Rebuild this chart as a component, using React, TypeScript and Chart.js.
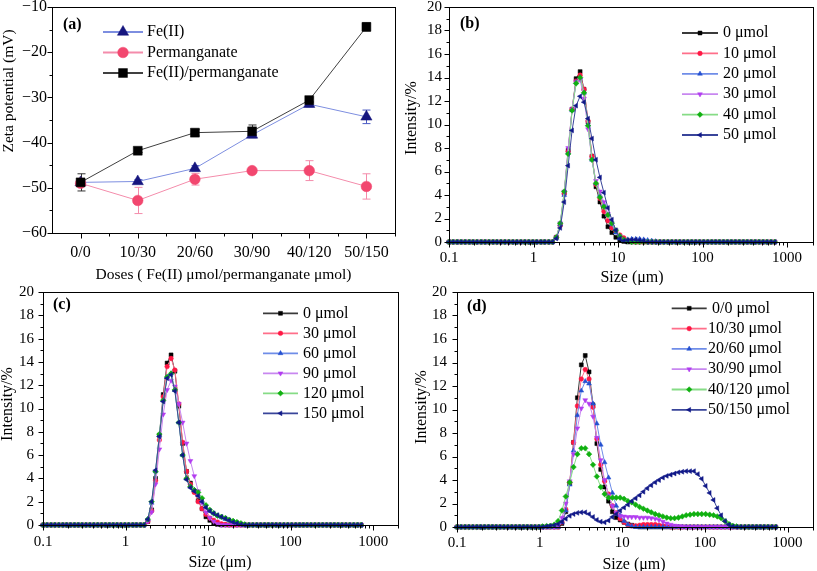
import React, { useEffect, useRef } from 'react';
import { Chart, registerables } from 'chart.js';
import { drawPoint } from 'chart.js/helpers';

Chart.register(...registerables);

const SERIF = '"Liberation Serif", "Times New Roman", serif';
Chart.defaults.font.family = SERIF;
Chart.defaults.color = '#000';

// ---------- Panel (a): zeta potential ----------
const doseLabels = ['0/0', '10/30', '20/60', '30/90', '40/120', '50/150'];
const fe2Zeta = [-48.8, -48.6, -45.7, -38.3, -31.5, -34.3];
const fe2Err = [0.5, 0.4, 0.6, 0.6, 0.6, 1.5];
const permZeta = [-49.0, -52.8, -48.1, -46.2, -46.2, -49.7];
const permErr = [0.6, 2.9, 1.3, 0.3, 2.2, 2.8];
const comboZeta = [-48.8, -41.8, -37.8, -37.5, -30.6, -14.4];
const comboErr = [1.9, 0.4, 0.7, 1.4, 0.5, 0.9];
const zetaTickValues = [-60, -50, -40, -30, -20, -10];
const zetaTickLabels = ['\u221260', '\u221250', '\u221240', '\u221230', '\u221220', '\u221210'];

// ---------- Size distributions ----------
const sizes = [
  0.1, 0.111, 0.124, 0.138, 0.154, 0.172, 0.191, 0.213, 0.238, 0.265,
  0.295, 0.329, 0.366, 0.408, 0.455, 0.507, 0.565, 0.630, 0.702, 0.782,
  0.871, 0.971, 1.08, 1.21, 1.34, 1.50, 1.67, 1.86, 2.07, 2.31,
  2.57, 2.86, 3.19, 3.56, 3.96, 4.42, 4.92, 5.48, 6.11, 6.81,
  7.59, 8.45, 9.42, 10.5, 11.7, 13.0, 14.5, 16.2, 18.0, 20.1,
  22.4, 25.0, 27.8, 31.0, 34.5, 38.5, 42.9, 47.8, 53.2, 59.3,
  66.1, 73.6, 82.0, 91.4, 102, 114, 127, 141, 157, 175,
  195, 217, 242, 270, 301, 335, 373, 416, 463, 516,
  575, 641, 715,
];
const sizeTickValues = [0.1, 1, 10, 100, 1000];
const sizeTickLabels = ['0.1', '1', '10', '100', '1000'];
const minorMultipliers = [2, 3, 4, 5, 6, 7, 8, 9];
const intensityTickValues = [0, 2, 4, 6, 8, 10, 12, 14, 16, 18, 20];
const intensityTickLabels = ['0', '2', '4', '6', '8', '10', '12', '14', '16', '18', '20'];

// (b) Fe(II) doses
const bLabels = ['0 \u03bcmol', '10 \u03bcmol', '20 \u03bcmol', '30 \u03bcmol', '40 \u03bcmol', '50 \u03bcmol'];
const b0 = [
  0, 0, 0, 0, 0, 0, 0, 0, 0, 0,
  0, 0, 0, 0, 0, 0, 0, 0, 0, 0,
  0, 0, 0, 0, 0, 0, 0, 0.4, 1.5, 4.2,
  7.8, 11.3, 13.9, 14.5, 13.0, 10.2, 7.3, 4.7, 3.4, 2.2,
  1.3, 0.8, 0.4, 0.15, 0.05, 0, 0, 0, 0, 0,
  0, 0, 0, 0, 0, 0, 0, 0, 0, 0,
  0, 0, 0, 0, 0, 0, 0, 0, 0, 0,
  0, 0, 0, 0, 0, 0, 0, 0, 0, 0,
  0, 0, 0,
];
const b10 = [
  0, 0, 0, 0, 0, 0, 0, 0, 0, 0,
  0, 0, 0, 0, 0, 0, 0, 0, 0, 0,
  0, 0, 0, 0, 0, 0, 0, 0.4, 1.4, 4.1,
  7.7, 11.3, 13.7, 14.2, 13.0, 10.3, 7.3, 4.9, 3.7, 2.6,
  1.8, 1.2, 0.9, 0.6, 0.35, 0.15, 0.05, 0, 0, 0,
  0, 0, 0, 0, 0, 0, 0, 0, 0, 0,
  0, 0, 0, 0, 0, 0, 0, 0, 0, 0,
  0, 0, 0, 0, 0, 0, 0, 0, 0, 0,
  0, 0, 0,
];
const b20 = [
  0, 0, 0, 0, 0, 0, 0, 0, 0, 0,
  0, 0, 0, 0, 0, 0, 0, 0, 0, 0,
  0, 0, 0, 0, 0, 0, 0, 0.35, 1.5, 4.0,
  7.6, 11.2, 13.6, 14.0, 12.7, 10.0, 7.0, 5.0, 4.0, 3.2,
  2.3, 1.5, 0.8, 0.3, 0.15, 0.2, 0.25, 0.25, 0.25, 0.2,
  0.15, 0.1, 0.05, 0, 0, 0, 0, 0, 0, 0,
  0, 0, 0, 0, 0, 0, 0, 0, 0, 0,
  0, 0, 0, 0, 0, 0, 0, 0, 0, 0,
  0, 0, 0,
];
const b30 = [
  0, 0, 0, 0, 0, 0, 0, 0, 0, 0,
  0, 0, 0, 0, 0, 0, 0, 0, 0, 0,
  0, 0, 0, 0, 0, 0, 0, 0.4, 1.6, 4.3,
  8.0, 11.3, 13.6, 13.8, 12.2, 9.6, 7.0, 5.2, 4.3, 3.4,
  2.4, 1.6, 1.0, 0.5, 0.2, 0.1, 0, 0, 0, 0,
  0, 0, 0, 0, 0, 0, 0, 0, 0, 0,
  0, 0, 0, 0, 0, 0, 0, 0, 0, 0,
  0, 0, 0, 0, 0, 0, 0, 0, 0, 0,
  0, 0, 0,
];
const b40 = [
  0, 0, 0, 0, 0, 0, 0, 0, 0, 0,
  0, 0, 0, 0, 0, 0, 0, 0, 0, 0,
  0, 0, 0, 0, 0, 0, 0, 0.4, 1.6, 4.3,
  7.5, 11.2, 13.5, 14.0, 12.7, 9.9, 7.0, 5.0, 3.8, 3.0,
  2.3, 1.6, 1.0, 0.5, 0.2, 0.1, 0, 0, 0, 0,
  0, 0, 0, 0, 0, 0, 0, 0, 0, 0,
  0, 0, 0, 0, 0, 0, 0, 0, 0, 0,
  0, 0, 0, 0, 0, 0, 0, 0, 0, 0,
  0, 0, 0,
];
const b50 = [
  0, 0, 0, 0, 0, 0, 0, 0, 0, 0,
  0, 0, 0, 0, 0, 0, 0, 0, 0, 0,
  0, 0, 0, 0, 0, 0, 0, 0.3, 1.2, 3.4,
  6.5, 9.5, 11.6, 12.4, 11.9, 10.5, 8.8, 7.0, 5.5, 4.2,
  2.9, 1.9, 1.0, 0.3, 0.1, 0.15, 0.2, 0.2, 0.15, 0.1,
  0, 0, 0, 0, 0, 0, 0, 0, 0, 0,
  0, 0, 0, 0, 0, 0, 0, 0, 0, 0,
  0, 0, 0, 0, 0, 0, 0, 0, 0, 0,
  0, 0, 0,
];

// (c) permanganate doses
const cLabels = ['0 \u03bcmol', '30 \u03bcmol', '60 \u03bcmol', '90 \u03bcmol', '120 \u03bcmol', '150 \u03bcmol'];
const c0 = [
  0, 0, 0, 0, 0, 0, 0, 0, 0, 0,
  0, 0, 0, 0, 0, 0, 0, 0, 0, 0,
  0, 0, 0, 0, 0, 0, 0, 0.3, 1.3, 4.0,
  7.7, 11.2, 13.9, 14.6, 13.2, 10.2, 7.0, 4.6, 3.6, 2.9,
  2.1, 1.4, 0.7, 0.4, 0.15, 0.05, 0, 0, 0, 0,
  0, 0, 0, 0, 0, 0, 0, 0, 0, 0,
  0, 0, 0, 0, 0, 0, 0, 0, 0, 0,
  0, 0, 0, 0, 0, 0, 0, 0, 0, 0,
  0, 0, 0,
];
const c30 = [
  0, 0, 0, 0, 0, 0, 0, 0, 0, 0,
  0, 0, 0, 0, 0, 0, 0, 0, 0, 0,
  0, 0, 0, 0, 0, 0, 0, 0.3, 1.2, 3.8,
  7.3, 11.0, 13.6, 14.3, 13.3, 10.4, 7.1, 4.6, 3.5, 2.8,
  2.0, 1.4, 0.9, 0.6, 0.4, 0.25, 0.1, 0.05, 0, 0,
  0, 0, 0, 0, 0, 0, 0, 0, 0, 0,
  0, 0, 0, 0, 0, 0, 0, 0, 0, 0,
  0, 0, 0, 0, 0, 0, 0, 0, 0, 0,
  0, 0, 0,
];
const c60 = [
  0, 0, 0, 0, 0, 0, 0, 0, 0, 0,
  0, 0, 0, 0, 0, 0, 0, 0, 0, 0,
  0, 0, 0, 0, 0, 0, 0, 0.5, 1.9, 4.6,
  7.7, 10.7, 12.7, 13.0, 11.6, 8.8, 6.0, 4.0, 3.3, 3.0,
  2.6, 2.0, 1.5, 1.2, 1.0, 0.8, 0.65, 0.5, 0.4, 0.25,
  0.15, 0.05, 0, 0, 0, 0, 0, 0, 0, 0,
  0, 0, 0, 0, 0, 0, 0, 0, 0, 0,
  0, 0, 0, 0, 0, 0, 0, 0, 0, 0,
  0, 0, 0,
];
const c90 = [
  0, 0, 0, 0, 0, 0, 0, 0, 0, 0,
  0, 0, 0, 0, 0, 0, 0, 0, 0, 0,
  0, 0, 0, 0, 0, 0, 0, 0.3, 1.1, 3.5,
  6.5, 9.5, 11.6, 12.4, 11.9, 10.4, 8.8, 7.0, 5.5, 4.2,
  2.9, 1.9, 1.1, 0.6, 0.3, 0.1, 0, 0, 0, 0,
  0, 0, 0, 0, 0, 0, 0, 0, 0, 0,
  0, 0, 0, 0, 0, 0, 0, 0, 0, 0,
  0, 0, 0, 0, 0, 0, 0, 0, 0, 0,
  0, 0, 0,
];
const c120 = [
  0, 0, 0, 0, 0, 0, 0, 0, 0, 0,
  0, 0, 0, 0, 0, 0, 0, 0, 0, 0,
  0, 0, 0, 0, 0, 0, 0, 0.5, 2.0, 4.6,
  7.8, 10.7, 12.7, 13.0, 11.6, 8.8, 6.0, 4.0, 3.3, 3.0,
  2.8, 2.3, 1.7, 1.3, 1.0, 0.8, 0.7, 0.6, 0.45, 0.35,
  0.25, 0.15, 0.05, 0, 0, 0, 0, 0, 0, 0,
  0, 0, 0, 0, 0, 0, 0, 0, 0, 0,
  0, 0, 0, 0, 0, 0, 0, 0, 0, 0,
  0, 0, 0,
];
const c150 = [
  0, 0, 0, 0, 0, 0, 0, 0, 0, 0,
  0, 0, 0, 0, 0, 0, 0, 0, 0, 0,
  0, 0, 0, 0, 0, 0, 0, 0.5, 2.0, 4.7,
  7.6, 10.6, 12.6, 12.9, 11.5, 8.8, 6.0, 3.9, 3.2, 2.9,
  2.5, 2.0, 1.5, 1.2, 1.0, 0.85, 0.7, 0.55, 0.4, 0.25,
  0.15, 0.05, 0, 0, 0, 0, 0, 0, 0, 0,
  0, 0, 0, 0, 0, 0, 0, 0, 0, 0,
  0, 0, 0, 0, 0, 0, 0, 0, 0, 0,
  0, 0, 0,
];

// (d) Fe(II)/permanganate doses
const dLabels = [' 0/0 \u03bcmol', '10/30 \u03bcmol', '20/60 \u03bcmol', '30/90 \u03bcmol', '40/120 \u03bcmol', '50/150 \u03bcmol'];
const d0 = [
  0, 0, 0, 0, 0, 0, 0, 0, 0, 0,
  0, 0, 0, 0, 0, 0, 0, 0, 0, 0,
  0, 0, 0, 0, 0, 0, 0, 0.3, 1.3, 3.7,
  7.2, 11.0, 13.8, 14.6, 13.2, 10.4, 7.1, 4.9, 3.4, 2.2,
  1.3, 0.8, 0.6, 0.4, 0.25, 0.15, 0.05, 0, 0, 0,
  0, 0, 0, 0, 0, 0, 0, 0, 0, 0,
  0, 0, 0, 0, 0, 0, 0, 0, 0, 0,
  0, 0, 0, 0, 0, 0, 0, 0, 0, 0,
  0, 0, 0,
];
const d10 = [
  0, 0, 0, 0, 0, 0, 0, 0, 0, 0,
  0, 0, 0, 0, 0, 0, 0, 0, 0, 0,
  0, 0, 0, 0, 0, 0, 0, 0.4, 1.5, 3.8,
  7.2, 10.3, 12.6, 13.4, 12.6, 10.2, 7.5, 5.3, 3.9, 2.8,
  1.8, 1.2, 0.7, 0.4, 0.2, 0.1, 0.1, 0.15, 0.2, 0.2,
  0.2, 0.2, 0.15, 0.1, 0.05, 0, 0, 0, 0, 0,
  0, 0, 0, 0, 0, 0, 0, 0, 0, 0,
  0, 0, 0, 0, 0, 0, 0, 0, 0, 0,
  0, 0, 0,
];
const d20 = [
  0, 0, 0, 0, 0, 0, 0, 0, 0, 0,
  0, 0, 0, 0, 0, 0, 0, 0, 0, 0,
  0, 0, 0, 0, 0, 0, 0, 0.4, 1.4, 3.6,
  6.5, 9.5, 11.6, 12.4, 12.2, 10.5, 8.8, 7.0, 5.5, 4.2,
  2.9, 1.8, 1.0, 0.5, 0.2, 0.05, 0, 0, 0, 0,
  0, 0, 0, 0, 0, 0, 0, 0, 0, 0,
  0, 0, 0, 0, 0, 0, 0, 0, 0, 0,
  0, 0, 0, 0, 0, 0, 0, 0, 0, 0,
  0, 0, 0,
];
const d30 = [
  0, 0, 0, 0, 0, 0, 0, 0, 0, 0,
  0, 0, 0, 0, 0, 0, 0, 0, 0, 0,
  0, 0, 0, 0, 0, 0, 0.2, 0.8, 2.0, 3.9,
  6.2, 8.4, 10.1, 10.8, 10.5, 9.4, 7.6, 5.7, 4.0, 2.7,
  1.8, 1.2, 0.95, 0.9, 0.85, 0.85, 0.85, 0.8, 0.8, 0.8,
  0.75, 0.7, 0.6, 0.45, 0.3, 0.2, 0.12, 0.08, 0.05, 0,
  0, 0, 0, 0, 0, 0, 0, 0, 0, 0,
  0, 0, 0, 0, 0, 0, 0, 0, 0, 0,
  0, 0, 0,
];
const d40 = [
  0, 0, 0, 0, 0, 0, 0, 0, 0, 0,
  0, 0, 0, 0, 0, 0, 0, 0, 0, 0,
  0, 0, 0.05, 0.08, 0.1, 0.2, 0.5, 1.4, 2.6, 3.8,
  5.1, 6.2, 6.7, 6.7, 6.2, 5.3, 4.3, 3.4, 2.8, 2.5,
  2.5, 2.5, 2.5, 2.4, 2.2, 2.1, 1.9, 1.7, 1.55, 1.4,
  1.25, 1.1, 1.0, 0.9, 0.8, 0.75, 0.75, 0.8, 0.9, 1.0,
  1.05, 1.1, 1.1, 1.1, 1.1, 1.05, 1.0, 0.9, 0.75, 0.5,
  0.25, 0.1, 0.05, 0, 0, 0, 0, 0, 0, 0,
  0, 0, 0,
];
const d50 = [
  0, 0, 0, 0, 0, 0, 0, 0, 0, 0,
  0, 0, 0, 0, 0, 0, 0, 0, 0, 0,
  0, 0, 0, 0.05, 0.1, 0.15, 0.25, 0.45, 0.7, 0.95,
  1.1, 1.2, 1.25, 1.25, 1.1, 0.85, 0.6, 0.45, 0.4, 0.55,
  0.85, 1.1, 1.4, 1.65, 1.9, 2.2, 2.45, 2.7, 3.0, 3.3,
  3.55, 3.8, 4.0, 4.2, 4.35, 4.45, 4.55, 4.65, 4.7, 4.75,
  4.75, 4.75, 4.5, 4.1, 3.5, 2.9, 2.3, 1.6, 1.0, 0.5,
  0.2, 0.05, 0, 0, 0, 0, 0, 0, 0, 0,
  0, 0, 0,
];

// ---------- styles ----------
type SeriesStyle = { point: string; line: string; shape: string; rotation: number; radius: number };
const sBlack: SeriesStyle = { point: '#000000', line: '#3a3a3a', shape: 'rect', rotation: 0, radius: 2.8 };
const sRed: SeriesStyle = { point: '#ff1744', line: '#ff6f8a', shape: 'circle', rotation: 0, radius: 2.3 };
const sBlue: SeriesStyle = { point: '#2450d0', line: '#6f8de8', shape: 'triangle', rotation: 0, radius: 2.8 };
const sPurple: SeriesStyle = { point: '#b23cf0', line: '#c887f0', shape: 'triangle', rotation: 180, radius: 2.8 };
const sGreen: SeriesStyle = { point: '#10b010', line: '#86dc86', shape: 'rectRot', rotation: 0, radius: 2.8 };
const sNavy: SeriesStyle = { point: '#101888', line: '#39459a', shape: 'triangle', rotation: -90, radius: 2.8 };
const sizeStyles = [sBlack, sRed, sBlue, sPurple, sGreen, sNavy];

type Decor = {
  tag: string; tagX: number; tagY: number;
  xTitle: string; xTitleX: number; xTitleY: number;
  yTitle: string; yTitleX: number; yTitleY: number;
  titleFont: string;
  lx1: number; lx2: number; ltx: number; ly0: number; ldy: number; legendFont: string;
  xKind: 'category' | 'log';
  yMajorStep: number;
};

function makeDecor(d: Decor) {
  return {
    id: 'decor',
    beforeDatasetsDraw(chart: any) {
      const ctx = chart.ctx;
      const ys = chart.scales.y;
      chart.data.datasets.forEach((ds: any, di: number) => {
        if (!ds.errors) return;
        const meta = chart.getDatasetMeta(di);
        ctx.save();
        ctx.strokeStyle = ds.errorColor;
        ctx.lineWidth = 1;
        ctx.beginPath();
        meta.data.forEach((pt: any, j: number) => {
          const v = ds.data[j];
          const e = ds.errors[j];
          const x = Math.round(pt.x) + 0.5;
          const yt = ys.getPixelForValue(v + e);
          const yb = ys.getPixelForValue(v - e);
          ctx.moveTo(x, yt); ctx.lineTo(x, yb);
          ctx.moveTo(x - 4, yt); ctx.lineTo(x + 4, yt);
          ctx.moveTo(x - 4, yb); ctx.lineTo(x + 4, yb);
        });
        ctx.stroke();
        ctx.restore();
      });
    },
    afterDraw(chart: any) {
      const ctx = chart.ctx;
      const { left, right, top, bottom } = chart.chartArea;
      const xs = chart.scales.x;
      const ys = chart.scales.y;
      const L = Math.round(left) + 0.5;
      const B = Math.round(bottom) + 0.5;
      ctx.save();
      ctx.strokeStyle = '#000';
      ctx.lineWidth = 1;
      ctx.strokeRect(L, Math.round(top) + 0.5, Math.round(right) - Math.round(left), Math.round(bottom) - Math.round(top));
      ctx.beginPath();
      ys.ticks.forEach((t: any) => {
        const y = Math.round(ys.getPixelForValue(t.value)) + 0.5;
        const r = t.value / d.yMajorStep;
        const len = Math.abs(r - Math.round(r)) < 1e-6 ? 5 : 3;
        ctx.moveTo(L - len, y); ctx.lineTo(L, y);
      });
      if (d.xKind === 'log') {
        xs.ticks.forEach((t: any) => {
          const x = Math.round(xs.getPixelForValue(t.value)) + 0.5;
          const len = sizeTickValues.includes(t.value) ? 5 : 3;
          ctx.moveTo(x, B); ctx.lineTo(x, B + len);
        });
      } else {
        const n = xs.ticks.length;
        const half = (xs.getPixelForValue(1) - xs.getPixelForValue(0)) / 2;
        for (let i = 0; i < n; i++) {
          const c = xs.getPixelForValue(i);
          const x = Math.round(c) + 0.5;
          ctx.moveTo(x, B); ctx.lineTo(x, B + 5);
          const m = Math.round(c + half) + 0.5;
          ctx.moveTo(m, B); ctx.lineTo(m, B + 3);
        }
      }
      ctx.stroke();

      ctx.fillStyle = '#000';
      ctx.textBaseline = 'middle';
      ctx.textAlign = 'left';
      ctx.font = 'bold 16px ' + SERIF;
      ctx.fillText(d.tag, d.tagX, d.tagY);

      ctx.font = d.titleFont;
      ctx.textAlign = 'center';
      ctx.fillText(d.xTitle, d.xTitleX, d.xTitleY);
      ctx.save();
      ctx.translate(d.yTitleX, d.yTitleY);
      ctx.rotate(-Math.PI / 2);
      ctx.fillText(d.yTitle, 0, 0);
      ctx.restore();

      chart.data.datasets.forEach((ds: any, i: number) => {
        const y = d.ly0 + i * d.ldy;
        ctx.strokeStyle = ds.borderColor;
        ctx.lineWidth = 1.8;
        ctx.beginPath();
        ctx.moveTo(d.lx1, y); ctx.lineTo(d.lx2, y);
        ctx.stroke();
        ctx.fillStyle = ds.pointBackgroundColor;
        ctx.strokeStyle = ds.pointBorderColor;
        ctx.lineWidth = 0.5;
        drawPoint(ctx, { pointStyle: ds.pointStyle, rotation: ds.pointRotation || 0, radius: ds.pointRadius, borderWidth: 0.5 } as any, (d.lx1 + d.lx2) / 2, y);
        ctx.fillStyle = '#000';
        ctx.font = d.legendFont;
        ctx.textAlign = 'left';
        ctx.textBaseline = 'middle';
        ctx.fillText(ds.label, d.ltx, y);
      });
      ctx.restore();
    },
  };
}

function zetaConfig(): any {
  const decor: Decor = {
    tag: '(a)', tagX: 63, tagY: 25,
    xTitle: 'Doses ( Fe(II) \u03bcmol/permanganate \u03bcmol)', xTitleX: 223.5, xTitleY: 275,
    yTitle: 'Zeta potential (mV)', yTitleX: 8.5, yTitleY: 91,
    titleFont: '15.5px ' + SERIF,
    lx1: 103, lx2: 143, ltx: 147, ly0: 32, ldy: 20.5, legendFont: '16px ' + SERIF,
    xKind: 'category', yMajorStep: 10,
  };
  const mk = (label: string, data: number[], errors: number[], line: string, pt: string, shape: string, radius: number, errColor: string, order: number) => ({
    label, data, errors, errorColor: errColor,
    borderColor: line, backgroundColor: pt, pointBackgroundColor: pt, pointBorderColor: pt,
    pointStyle: shape, pointRadius: radius, pointBorderWidth: 0.5, borderWidth: 1, tension: 0, clip: false, order,
  });
  return {
    type: 'line',
    data: {
      labels: doseLabels,
      datasets: [
        mk('Fe(II)', fe2Zeta, fe2Err, '#7d8ee0', '#16167f', 'triangle', 6.5, '#4a5ac4', 3),
        mk('Permanganate', permZeta, permErr, '#f48cab', '#f2476f', 'circle', 5.3, '#f48cab', 2),
        mk('Fe(II)/permanganate', comboZeta, comboErr, '#404040', '#000000', 'rect', 6.3, '#333333', 1),
      ],
    },
    options: {
      responsive: false, animation: false, events: [],
      layout: { padding: { left: 0, right: 9, top: 7, bottom: 0 } },
      plugins: { legend: { display: false }, tooltip: { enabled: false } },
      scales: {
        x: {
          type: 'category', offset: true,
          grid: { display: false, drawTicks: false }, border: { display: false },
          ticks: { autoSkip: false, maxRotation: 0, padding: 10.5, font: { size: 16, family: SERIF }, color: '#000' },
          afterFit: (s: any) => { s.height = 52; s.paddingLeft = 0; s.paddingRight = 0; },
        },
        y: {
          type: 'linear', min: -60, max: -10,
          grid: { display: false, drawTicks: false }, border: { display: false },
          ticks: {
            stepSize: 5, autoSkip: false, padding: 5, font: { size: 16, family: SERIF }, color: '#000',
            callback: (v: number) => { const k = zetaTickValues.indexOf(v); return k >= 0 ? zetaTickLabels[k] : ''; },
          },
          afterFit: (s: any) => { s.width = 52; s.paddingTop = 0; s.paddingBottom = 0; },
        },
      },
    },
    plugins: [makeDecor(decor)],
  };
}

function sizeConfig(labels: string[], series: number[][], decor: Decor, yWidth: number, xHeight: number, padRight: number, yPad: number, xPad: number): any {
  const datasets = series.map((vals, i) => {
    const st = sizeStyles[i];
    return {
      label: labels[i],
      data: sizes.map((s, j) => ({ x: s, y: vals[j] })),
      borderColor: st.line, backgroundColor: st.point,
      pointBackgroundColor: st.point, pointBorderColor: st.point, pointBorderWidth: 0.5,
      pointStyle: st.shape, pointRotation: st.rotation, pointRadius: st.radius,
      borderWidth: 1, tension: 0, clip: false, order: 10 - i,
    };
  });
  return {
    type: 'line',
    data: { datasets },
    options: {
      responsive: false, animation: false, events: [],
      layout: { padding: { left: 0, right: padRight, top: 7, bottom: 0 } },
      plugins: { legend: { display: false }, tooltip: { enabled: false } },
      scales: {
        x: {
          type: 'logarithmic', min: 0.1, max: 2000,
          grid: { display: false, drawTicks: false }, border: { display: false },
          ticks: {
            autoSkip: false, maxRotation: 0, padding: xPad, font: { size: 15, family: SERIF }, color: '#000',
            callback: (v: number) => { const k = sizeTickValues.indexOf(v); return k >= 0 ? sizeTickLabels[k] : ''; },
          },
          afterBuildTicks: (s: any) => {
            const t: { value: number }[] = [];
            sizeTickValues.forEach((dec) => {
              t.push({ value: dec });
              minorMultipliers.forEach((m) => { if (dec * m <= 2000) t.push({ value: dec * m }); });
            });
            s.ticks = t;
          },
          afterFit: (s: any) => { s.height = xHeight; s.paddingLeft = 0; s.paddingRight = 0; },
        },
        y: {
          type: 'linear', min: 0, max: 20,
          grid: { display: false, drawTicks: false }, border: { display: false },
          ticks: {
            stepSize: 1, autoSkip: false, padding: yPad, font: { size: 15, family: SERIF }, color: '#000',
            callback: (v: number) => { const k = intensityTickValues.indexOf(v); return k >= 0 ? intensityTickLabels[k] : ''; },
          },
          afterFit: (s: any) => { s.width = yWidth; s.paddingTop = 0; s.paddingBottom = 0; },
        },
      },
    },
    plugins: [makeDecor(decor)],
  };
}

const decorB: Decor = {
  tag: '(b)', tagX: 56, tagY: 23.5,
  xTitle: 'Size (\u03bcm)', xTitleX: 228, xTitleY: 278,
  yTitle: 'Intensity/%', yTitleX: 8, yTitleY: 118,
  titleFont: '16px ' + SERIF,
  lx1: 278, lx2: 314, ltx: 319, ly0: 33, ldy: 20.4, legendFont: '16px ' + SERIF,
  xKind: 'log', yMajorStep: 2,
};
const decorC: Decor = {
  tag: '(c)', tagX: 53, tagY: 20,
  xTitle: 'Size (\u03bcm)', xTitleX: 220, xTitleY: 278,
  yTitle: 'Intensity/%', yTitleX: 8, yTitleY: 119,
  titleFont: '16px ' + SERIF,
  lx1: 263, lx2: 298, ltx: 303, ly0: 28.3, ldy: 20, legendFont: '16px ' + SERIF,
  xKind: 'log', yMajorStep: 2,
};
const decorD: Decor = {
  tag: '(d)', tagX: 63, tagY: 22,
  xTitle: 'Size (\u03bcm)', xTitleX: 230, xTitleY: 280,
  yTitle: 'Intensity/%', yTitleX: 18, yTitleY: 122,
  titleFont: '16px ' + SERIF,
  lx1: 267.7, lx2: 302.7, ltx: 304, ly0: 23.3, ldy: 20.3, legendFont: '16px ' + SERIF,
  xKind: 'log', yMajorStep: 2,
};

function Panel(props: { left: number; top: number; width: number; height: number; build: () => any }) {
  const ref = useRef<HTMLCanvasElement>(null);
  useEffect(() => {
    const chart = new Chart(ref.current as HTMLCanvasElement, props.build());
    return () => chart.destroy();
  }, []);
  return (
    <canvas
      ref={ref}
      width={props.width}
      height={props.height}
      style={{ position: 'absolute', left: props.left, top: props.top, width: props.width, height: props.height }}
    />
  );
}

export default function App() {
  return (
    <div style={{ position: 'absolute', left: 0, top: 0, width: 817, height: 571, background: '#fff', overflow: 'hidden' }}>
      <Panel left={0} top={0} width={404} height={285} build={zetaConfig} />
      <Panel left={404} top={0} width={413} height={285}
        build={() => sizeConfig(bLabels, [b0, b10, b20, b30, b40, b50], decorB, 45, 43, 2, 7, 7)} />
      <Panel left={0} top={285} width={404} height={286}
        build={() => sizeConfig(cLabels, [c0, c30, c60, c90, c120, c150], decorC, 43, 46, 6, 9, 8)} />
      <Panel left={404} top={285} width={413} height={286}
        build={() => sizeConfig(dLabels, [d0, d10, d20, d30, d40, d50], decorD, 53, 44, 3, 10, 7)} />
    </div>
  );
}
